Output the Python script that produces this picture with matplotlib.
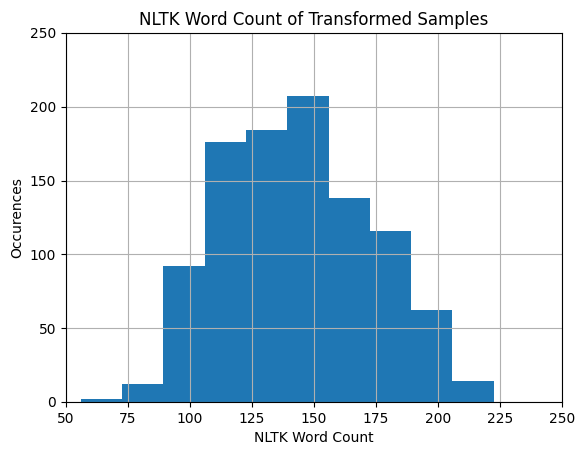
import numpy as np
import matplotlib
matplotlib.use('Agg')
import matplotlib.pyplot as plt

# histogram bin edges and counts
bin_edges = [56.0, 72.65, 89.3, 105.95, 122.6, 139.25, 155.9, 172.55, 189.2, 205.85, 222.5]
counts = [2, 12, 92, 176, 184, 207, 138, 116, 62, 14]

centers = [(a + b) / 2 for a, b in zip(bin_edges[:-1], bin_edges[1:])]

fig = plt.figure(figsize=(5.84, 4.55), dpi=100)
ax = fig.add_subplot(111)
fig.subplots_adjust(left=0.113, right=0.962, top=0.9275, bottom=0.1165)

ax.hist(centers, bins=bin_edges, weights=counts, color='#1f77b4')
ax.grid(True)

ax.set_xlim(50, 250)
ax.set_ylim(0, 250)
ax.set_xticks(np.arange(50, 251, 25))
ax.set_yticks(np.arange(0, 251, 50))

ax.set_title('NLTK Word Count of Transformed Samples')
ax.set_xlabel('NLTK Word Count')
ax.set_ylabel('Occurences')

fig.savefig('out.png', dpi=100)
